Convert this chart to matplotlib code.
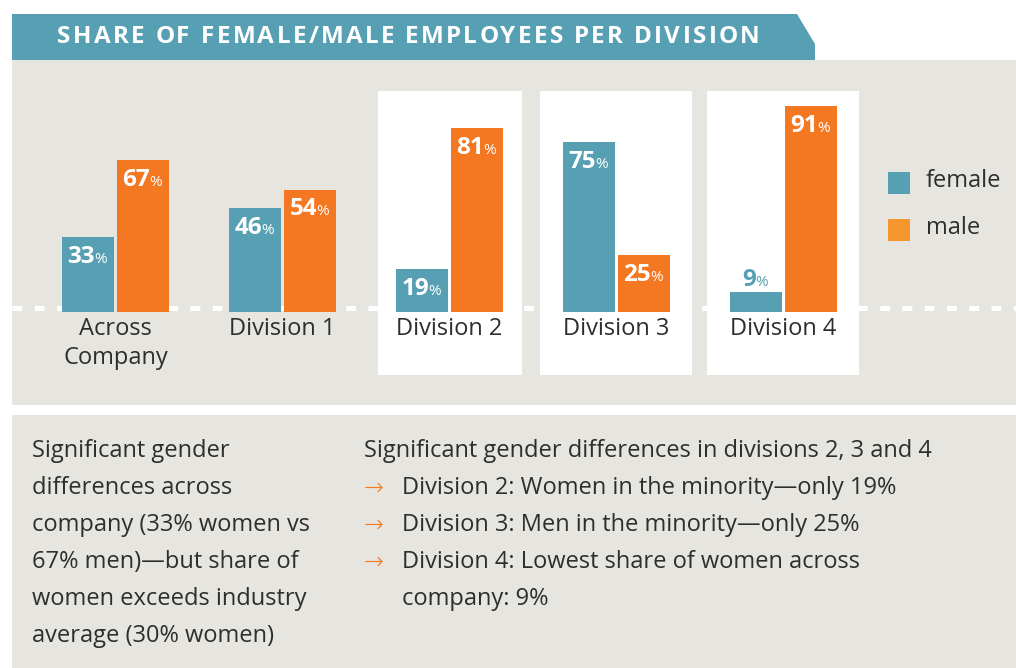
import matplotlib
matplotlib.use('Agg')
import matplotlib.pyplot as plt
from matplotlib.patches import Rectangle, Polygon

plt.rcParams['font.family'] = ['Open Sans', 'DejaVu Sans']

# data
categories = ['Across\nCompany', 'Division 1', 'Division 2', 'Division 3', 'Division 4']
female = [33, 46, 19, 75, 9]
male = [67, 54, 81, 25, 91]
highlighted = [2, 3, 4]   # divisions drawn on a white card
title = 'SHARE OF FEMALE/MALE EMPLOYEES PER DIVISION'
legend_labels = ['female', 'male']
left_note = ['Significant gender', 'differences across', 'company (33% women vs',
             '67% men)\u2014but share of', 'women exceeds industry',
             'average (30% women)']
right_head = 'Significant gender differences in divisions 2, 3 and 4'
right_items = [['Division 2: Women in the minority\u2014only 19%'],
               ['Division 3: Men in the minority\u2014only 25%'],
               ['Division 4: Lowest share of women across', 'company: 9%']]

TEAL = '#57a0b4'
ORANGE = '#f47721'
ORANGE_LEG = '#f6962f'
GRAY = '#e6e5df'
DARK = '#2e2e2e'

W, H = 1016, 668
fig = plt.figure(figsize=(W / 100, H / 100), dpi=100)
fig.patch.set_facecolor('white')

# background axes in pixel coordinates (y down)
bg = fig.add_axes([0, 0, 1, 1])
bg.set_xlim(0, W)
bg.set_ylim(H, 0)
bg.axis('off')

bg.add_patch(Rectangle((12, 60), W - 12, 345, facecolor=GRAY, edgecolor='none', zorder=0))
bg.add_patch(Rectangle((12, 415), W - 12, H - 415, facecolor=GRAY, edgecolor='none', zorder=0))
bg.add_patch(Polygon([(12, 14), (797, 14), (815, 44), (815, 60), (12, 60)],
                     closed=True, facecolor=TEAL, edgecolor='none', zorder=1))

# dotted baseline
bg.plot([12, W], [308, 308], color='white', lw=3.6, dashes=(1.95, 2.5),
        solid_capstyle='butt', dash_capstyle='butt', zorder=1)

# white cards behind divisions 2-4
cards = {2: (378, 522), 3: (540, 692), 4: (707, 859)}
for i in highlighted:
    x0, x1 = cards[i]
    bg.add_patch(Rectangle((x0, 91), x1 - x0, 284, facecolor='white',
                           edgecolor='none', zorder=2))

# title with letter spacing
renderer = fig.canvas.get_renderer()


def text_width(s, **kw):
    t = bg.text(0, 0, s + 'X', **kw)
    w1 = t.get_window_extent(renderer).width
    t.remove()
    t = bg.text(0, 0, 'X', **kw)
    w2 = t.get_window_extent(renderer).width
    t.remove()
    return w1 - w2


tkw = dict(fontsize=17.5, fontweight='bold')
natural = text_width(title, **tkw)
spacing = (703 - natural) / (len(title) - 1)
for i, ch in enumerate(title):
    x = 57 + text_width(title[:i], **tkw) + i * spacing
    bg.text(x, 37, ch, color='white', ha='left', va='center', zorder=3, **tkw)

# legend
for k, (lab, col) in enumerate(zip(legend_labels, [TEAL, ORANGE_LEG])):
    y = 172 + 47 * k
    bg.add_patch(Rectangle((888, y), 22, 22, facecolor=col, edgecolor='none', zorder=3))
    bg.text(926, y + 9, lab, fontsize=17, color=DARK, ha='left', va='center', zorder=3)

# bar axes: baseline at y=312 px, 2.267 px per percent, groups 167 px apart
ax = fig.add_axes([0, (H - 312) / H, 1, (312 - 60) / H])
ax.set_facecolor('none')
ax.axis('off')
ax.set_xlim(-115.5 / 167, (W - 115.5) / 167)
ax.set_ylim(0, (312 - 60) / 2.267)

bw = 52 / 167
off = 27.5 / 167
xs = list(range(len(categories)))
ax.bar([x - off for x in xs], female, width=bw, color=TEAL, zorder=3)
ax.bar([x + off for x in xs], male, width=bw, color=ORANGE, zorder=3)


def value_label(x, v, col):
    num = str(v)
    split = (13 * len(num) - 12) / 2 * 0.72   # points
    if v < 15:
        dy, c = 4.3, col
    else:
        dy, c = -18.6, 'white'
    ax.annotate(num, (x, v), xytext=(split, dy), textcoords='offset points',
                ha='right', va='baseline', fontsize=17.5, fontweight='bold',
                color=c, zorder=4)
    ax.annotate('%', (x, v), xytext=(split - 0.6, dy), textcoords='offset points',
                ha='left', va='baseline', fontsize=11, color=c, zorder=4)


for x, f, m in zip(xs, female, male):
    value_label(x - off, f, TEAL)
    value_label(x + off, m, ORANGE)

for x, lab in zip(xs, categories):
    ax.text(x, -2.2, lab, ha='center', va='top', fontsize=17, color=DARK,
            linespacing=1.3, clip_on=False, zorder=4)

# notes
fs = 17
for k, line in enumerate(left_note):
    bg.text(32, 451 + 37 * k, line, fontsize=fs, color=DARK, ha='left', va='center')

bg.text(364, 451, right_head, fontsize=fs, color=DARK, ha='left', va='center')
row = 1
for item in right_items:
    bg.text(364, 488 + 37 * (row - 1), '\u2192', fontsize=17, color=ORANGE,
            ha='left', va='center', family='DejaVu Sans', fontweight='light')
    for line in item:
        bg.text(402, 451 + 37 * row, line, fontsize=fs, color=DARK, ha='left', va='center')
        row += 1

fig.savefig('out.png', dpi=100, facecolor='white')
